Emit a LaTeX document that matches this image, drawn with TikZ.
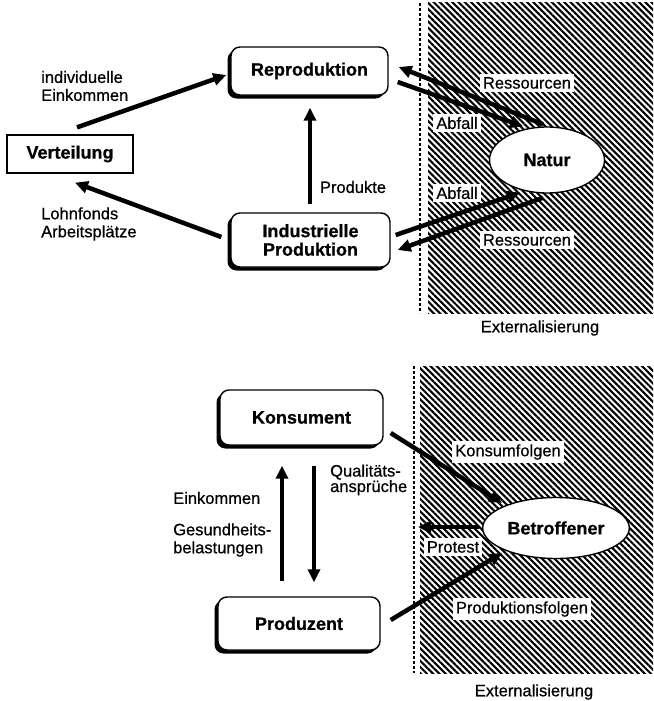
\documentclass[tikz,border=0pt]{standalone}
\usepackage{fontspec}
\setmainfont{Liberation Sans}
\newfontfamily\lblfont{Liberation Sans}[FakeBold=0.6]
\newfontfamily\boldlblfont{Liberation Sans Bold}[FakeBold=0.6]
\usetikzlibrary{arrows.meta,shadows,patterns.meta,calc,shapes.geometric}
\begin{document}
\begin{tikzpicture}[x=1pt,y=-1pt,
  lbl/.style={font=\lblfont\fontsize{16.5}{18}\selectfont, align=left, inner sep=1pt},
  blbl/.style={font=\boldlblfont\fontsize{18}{18.5}\selectfont},
  wlbl/.style={lbl, fill=white, inner sep=3pt},
  rbox/.style={draw, line width=1.4pt, rounded corners=9pt, fill=white, blbl, align=center,
    drop shadow={shadow xshift=-3.5pt,shadow yshift=-3.5pt,opacity=1,fill=black}},
  pbox/.style={draw, line width=1.3pt, fill=white, blbl},
  ell/.style={draw, line width=1.4pt, ellipse, fill=white, blbl},
  arr/.style={line width=4.5pt, -{Triangle[length=13pt,width=12pt]}},
  hatch/.style={pattern={Lines[angle=-45,distance=4.4pt,line width=2.1pt]}},
  sepline/.style={line width=1.1pt, dash pattern=on 3pt off 2pt}
]
\useasboundingbox (0,0) rectangle (653,701);

% ---------- top: background ----------
\fill[hatch] (428,3) rectangle (653,313);
\draw[sepline] (420,3) -- (420,313);
% ---------- bottom: background ----------
\fill[hatch] (420,366) rectangle (653,673);
\draw[sepline] (414,366) -- (414,673);

% ---------- top diagram ----------
\node[pbox, minimum width=126pt, minimum height=38pt] (vert) at (70,154) {Verteilung};
\node[rbox, minimum width=157pt, minimum height=48pt] (repro) at (309.5,71) {Reproduktion};
\node[rbox, minimum width=159pt, minimum height=54pt] (indus) at (310.5,240) {Industrielle\\Produktion};
\node[ell, minimum width=115pt, minimum height=66pt] (natur) at (547,160) {Natur};

\draw[arr] ($(vert.north)+(7,-7)$) -- ($(repro.west)+(-4,4)$);
\draw[arr] ($(indus.west)+(-9,-3)$) -- ($(vert.south)+(5,9)$);
\draw[arr] ($(indus.north)+(-0.5,-8)$) -- ($(repro.south)+(0.5,12)$);
\draw[arr] ($(natur.north)+(-4,-2)$) -- ($(repro.east)+(10,-4)$);
\draw[arr] ($(repro.east)+(9,11)$) -- ($(natur.north)+(-24,0)$);
\draw[arr] ($(indus.east)+(5,-5)$) -- ($(natur.south)+(-27,-1)$);
\draw[arr] ($(natur.south)+(-4,4)$) -- ($(indus.east)+(7,10)$);

\node[wlbl] (lr1) at (527,83) {Ressourcen};
\node[wlbl] (la1) at (457,123) {Abfall};
\node[wlbl] (la2) at (457,193) {Abfall};
\node[wlbl] (lr2) at (527,240) {Ressourcen};
\node[lbl] (lp) at (353,187) {Produkte};
\node[lbl, anchor=west] (lie) at (40,86) {individuelle\\Einkommen};
\node[lbl, anchor=west] (llo) at (40,224) {Lohnfonds\\Arbeitsplätze};
\node[lbl] (ext1) at (540,328) {Externalisierung};

% ---------- bottom diagram ----------
\node[rbox, minimum width=163pt, minimum height=55pt] (konsum) at (301.5,417.5) {Konsument};
\node[rbox, minimum width=162pt, minimum height=53pt] (produ) at (299,623.5) {Produzent};
\node[ell, minimum width=141pt, minimum height=61pt] (betr) at (556,528) {Betroffener};
\coordinate (protestend) at (418,527);

\draw[arr] ($(konsum.east)+(7,15.5)$) -- ($(betr.center)+(-54,-25)$);
\draw[arr] ($(betr.west)+(-3,-1)$) -- (protestend);
\draw[arr] ($(produ.east)+(10,-3.5)$) -- ($(betr.center)+(-54,25)$);
\draw[arr] ($(produ.north)+(-17,-15)$) -- ($(konsum.south)+(-19.5,20)$);
\draw[arr] ($(konsum.south)+(12.5,20)$) -- ($(produ.north)+(15,-14)$);

\node[wlbl] (lkf) at (508,452) {Konsumfolgen};
\node[wlbl] (lpr) at (453,547) {Protest};
\node[wlbl] (lpf) at (522,609) {Produktionsfolgen};
\node[lbl, anchor=west] (lek) at (172,498) {Einkommen};
\node[lbl, anchor=west] (lgb) at (172,540) {Gesundheits-\\belastungen};
\node[lbl, anchor=west, font=\lblfont\fontsize{16.5}{15.5}\selectfont] (lqa) at (329,480) {Qualitäts-\\ansprüche};
\node[lbl] (ext2) at (534,692) {Externalisierung};
\end{tikzpicture}
\end{document}
